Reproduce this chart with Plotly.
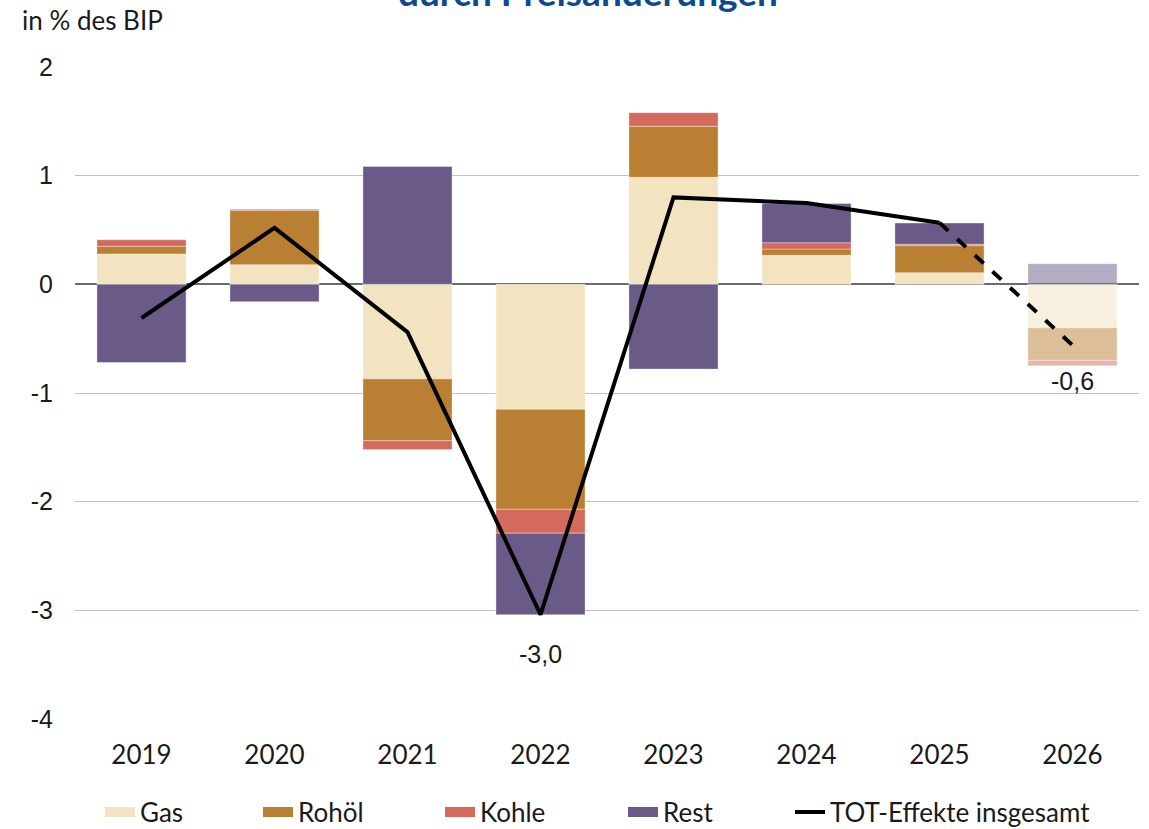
import plotly.graph_objects as go

# Beiträge zu den Terms-of-Trade-Effekten, in % des BIP
years = ["2019", "2020", "2021", "2022", "2023", "2024", "2025", "2026"]
gas = [0.28, 0.18, -0.87, -1.15, 0.985, 0.267, 0.107, -0.40]
rohoel = [0.07, 0.50, -0.57, -0.92, 0.47, 0.058, 0.249, -0.30]
kohle = [0.06, 0.01, -0.08, -0.22, 0.125, 0.058, 0.012, -0.05]
rest = [-0.72, -0.16, 1.085, -0.75, -0.78, 0.36, 0.196, 0.19]
tot = [-0.31, 0.52, -0.44, -3.04, 0.80, 0.748, 0.567, -0.56]
labelled_years = ["2022", "2026"]
forecast_years = ["2026"]

y_ticks = [2, 1, 0, -1, -2, -3, -4]
y_ticktext = ["2", "1", "0", "-1", "-2", "-3", "-4"]

FONT = "Lato"
NUM_FONT = "Liberation Sans"
TEXT = "#1a1a1a"

W, H = 1149, 829
M = dict(l=75, r=10, t=67, b=110)
PW, PH = W - M["l"] - M["r"], H - M["t"] - M["b"]


def px_x(x):
    return (x - M["l"]) / PW


def px_y(y):
    return (H - M["b"] - y) / PH


series = [
    ("Gas", gas, (242, 228, 192)),
    ("Rohöl", rohoel, (185, 128, 52)),
    ("Kohle", kohle, (212, 105, 94)),
    ("Rest", rest, (106, 90, 136)),
]
# Text start of each legend entry (pixels from the left)
legend_text_x = [140, 298, 480, 663, 830]
LEGEND_Y = 812


def rgba(rgb, a):
    return f"rgba({rgb[0]},{rgb[1]},{rgb[2]},{a})"


fig = go.Figure()
for name, vals, rgb in series:
    colors = [rgba(rgb, 0.5 if y in forecast_years else 1.0) for y in years]
    fig.add_trace(go.Bar(
        x=years, y=vals, name=name, showlegend=False, legendgroup=name,
        marker=dict(color=colors, line=dict(color="rgba(255,255,255,0.35)", width=1)),
    ))

# Gesamteffekt: durchgezogen bis 2025, gestrichelt für die Prognose
n_solid = len(years) - len(forecast_years)
fig.add_trace(go.Scatter(
    x=years[:n_solid], y=tot[:n_solid], mode="lines",
    name="TOT-Effekte insgesamt", legend="legend5",
    line=dict(color="black", width=4),
))
fig.add_trace(go.Scatter(
    x=years[n_solid - 1:], y=tot[n_solid - 1:], mode="lines",
    showlegend=False, line=dict(color="black", width=4, dash="dash"),
))

# Legendeneinträge der Balken als breite Farbstreifen
legend_ids = ["legend", "legend2", "legend3", "legend4"]
for (name, _, rgb), lid in zip(series, legend_ids):
    fig.add_trace(go.Scatter(
        x=[None], y=[None], mode="lines", name=name, legendgroup=name,
        legend=lid, line=dict(color=rgba(rgb, 1.0), width=14),
    ))

shifts = {"2022": -39, "2026": -36}
for y in labelled_years:
    i = years.index(y)
    v = tot[i]
    fig.add_annotation(
        x=i, y=v, text=f"{v:.1f}".replace(".", ","), showarrow=False,
        yshift=shifts[y], font=dict(family=NUM_FONT, size=25, color=TEXT),
    )

fig.add_annotation(
    xref="paper", yref="paper", x=px_x(588), y=px_y(-9),
    text="<b>durch Preisänderungen</b>", showarrow=False,
    xanchor="center", yanchor="middle",
    font=dict(family=FONT, size=37, color="#0b4a8f"),
)
fig.add_annotation(
    xref="paper", yref="paper", x=px_x(22), y=px_y(20),
    text="in % des BIP", showarrow=False, xanchor="left", yanchor="middle",
    xshift=-2, font=dict(family=FONT, size=26, color=TEXT),
)

legend_layout = {}
for k, lid in enumerate(legend_ids + ["legend5"]):
    legend_layout[lid] = dict(
        orientation="h", x=px_x(legend_text_x[k] - 40), xanchor="left",
        y=px_y(LEGEND_Y), yanchor="middle", bgcolor="rgba(0,0,0,0)",
        font=dict(family=FONT, size=26, color=TEXT), itemwidth=30,
        borderwidth=0, tracegroupgap=0,
    )

fig.update_layout(
    width=W, height=H,
    margin=dict(**M, autoexpand=False),
    barmode="relative",
    bargap=0.33,
    plot_bgcolor="white", paper_bgcolor="white",
    font=dict(family=FONT, size=25, color=TEXT),
    showlegend=True,
    **legend_layout,
    xaxis=dict(
        type="category", categoryorder="array", categoryarray=years,
        range=[-0.5, len(years) - 0.5],
        showgrid=False, ticks="", showline=False, zeroline=False,
        tickfont=dict(family=FONT, size=26, color=TEXT), ticklabelstandoff=18,
    ),
    yaxis=dict(
        range=[-4, 2], tickvals=y_ticks, ticktext=y_ticktext, showgrid=True,
        gridcolor="#b9c4cb", gridwidth=1,
        zeroline=True, zerolinecolor="#6b6b6b", zerolinewidth=1.5,
        ticks="", tickfont=dict(family=NUM_FONT, size=25, color=TEXT),
        ticklabelstandoff=21,
    ),
)

fig.write_html("out.html")
